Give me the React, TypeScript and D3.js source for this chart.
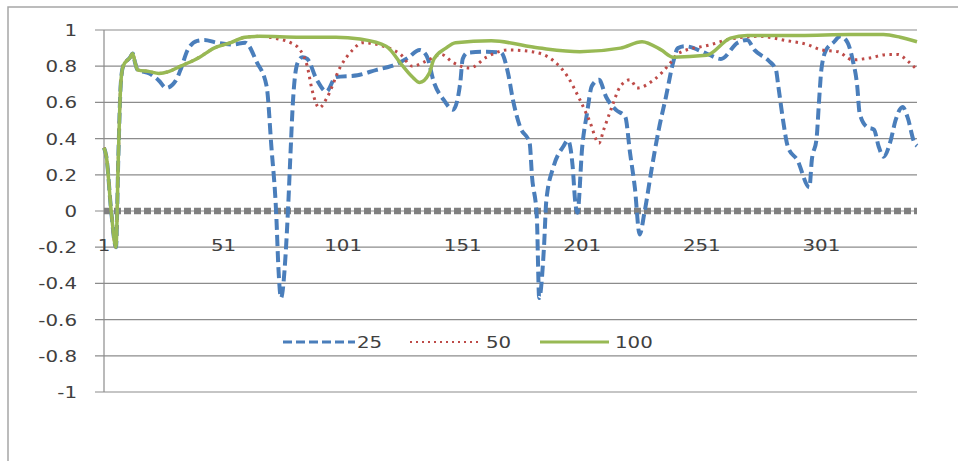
import React from 'react';
import * as d3 from 'd3';

const idx25 = [1, 2, 4, 6, 7, 8, 9, 12, 13, 14, 15, 20, 24, 27, 31, 33, 36, 40, 43, 48, 55, 60, 65, 69, 71, 73, 74, 75, 77, 78, 79, 80, 82, 84, 86, 90, 94, 98, 107, 115, 121, 128, 133, 136, 139, 143, 147, 150, 151, 153, 161, 167, 170, 172, 175, 179, 180, 182, 183, 185, 186, 189, 193, 195, 197, 198, 199, 201, 203, 205, 208, 211, 215, 219, 221, 223, 225, 227, 230, 233, 236, 239, 241, 244, 253, 259, 266, 270, 273, 279, 282, 283, 285, 287, 291, 296, 297, 299, 300, 301, 303, 306, 309, 312, 314, 316, 317, 320, 323, 325, 327, 330, 332, 335, 337, 340, 341];
const val25 = [0.35, 0.3, 0, -0.2, 0.3, 0.7, 0.8, 0.85, 0.87, 0.82, 0.78, 0.76, 0.72, 0.68, 0.72, 0.78, 0.89, 0.94, 0.945, 0.93, 0.92, 0.93, 0.82, 0.69, 0.355, -0.01, -0.33, -0.48, -0.23, 0.02, 0.32, 0.6, 0.82, 0.85, 0.84, 0.725, 0.66, 0.74, 0.75, 0.78, 0.8, 0.845, 0.89, 0.855, 0.71, 0.615, 0.56, 0.71, 0.84, 0.875, 0.88, 0.875, 0.76, 0.615, 0.465, 0.375, 0.19, -0.03, -0.48, -0.2, 0.06, 0.245, 0.355, 0.39, 0.245, 0.06, -0.01, 0.355, 0.54, 0.69, 0.725, 0.63, 0.56, 0.52, 0.32, 0.13, -0.13, -0.01, 0.23, 0.45, 0.63, 0.82, 0.9, 0.91, 0.87, 0.84, 0.93, 0.945, 0.89, 0.83, 0.78, 0.69, 0.5, 0.355, 0.28, 0.13, 0.28, 0.4, 0.6, 0.78, 0.89, 0.93, 0.965, 0.93, 0.84, 0.69, 0.54, 0.465, 0.45, 0.355, 0.3, 0.39, 0.5, 0.575, 0.52, 0.375, 0.36];

const idx50 = [1, 2, 4, 6, 7, 8, 9, 12, 13, 14, 15, 20, 24, 28, 33, 41, 47, 54, 60, 66, 74, 79, 83, 86, 88, 91, 94, 100, 105, 109, 118, 125, 130, 136, 142, 147, 154, 161, 170, 180, 189, 195, 200, 204, 208, 210, 213, 217, 221, 224, 231, 238, 241, 255, 263, 275, 287, 295, 301, 308, 314, 321, 329, 333, 337, 341];
const val50 = [0.35, 0.3, 0, -0.2, 0.3, 0.7, 0.8, 0.85, 0.87, 0.82, 0.78, 0.77, 0.76, 0.77, 0.8, 0.85, 0.9, 0.93, 0.96, 0.965, 0.95, 0.93, 0.89, 0.8, 0.67, 0.57, 0.62, 0.8, 0.89, 0.93, 0.91, 0.865, 0.8, 0.83, 0.865, 0.82, 0.79, 0.85, 0.89, 0.88, 0.83, 0.74, 0.615, 0.5, 0.375, 0.45, 0.56, 0.69, 0.725, 0.68, 0.725, 0.82, 0.87, 0.92, 0.95, 0.965, 0.94, 0.92, 0.89, 0.88, 0.835, 0.845, 0.865, 0.865, 0.83, 0.78];

const idx100 = [1, 2, 4, 6, 7, 8, 9, 12, 13, 14, 15, 20, 24, 28, 33, 41, 47, 54, 60, 66, 83, 98, 108, 119, 126, 130, 133, 137, 139, 144, 148, 163, 183, 200, 217, 226, 234, 239, 253, 263, 270, 292, 313, 327, 334, 341];
const val100 = [0.35, 0.3, 0, -0.2, 0.3, 0.7, 0.8, 0.85, 0.87, 0.82, 0.78, 0.77, 0.76, 0.77, 0.8, 0.85, 0.9, 0.93, 0.96, 0.965, 0.96, 0.96, 0.95, 0.91, 0.8, 0.74, 0.71, 0.76, 0.84, 0.9, 0.93, 0.94, 0.9, 0.88, 0.9, 0.935, 0.89, 0.85, 0.86, 0.955, 0.97, 0.97, 0.975, 0.975, 0.96, 0.935];

const idxZero = [1, 341];
const valZero = [0, 0];

const yTicks = [1, 0.8, 0.6, 0.4, 0.2, 0, -0.2, -0.4, -0.6, -0.8, -1];
const xTicks = [1, 51, 101, 151, 201, 251, 301];

const seriesNames = ['25', '50', '100'];

const width = 958;
const height = 461;

const App = () => {
  const x = d3.scaleLinear().domain([1, 341]).range([104, 917]);
  const y = d3.scaleLinear().domain([-1, 1]).range([392, 30]);

  const line = d3.line<[number, number]>()
    .x(d => x(d[0]))
    .y(d => y(d[1]))
    .curve(d3.curveMonotoneX);

  const zip = (a: number[], b: number[]) => a.map((v, i) => [v, b[i]] as [number, number]);

  const series = [
    { name: seriesNames[0], pts: zip(idx25, val25), color: '#4a7ebb', w: 4, dash: '11,5' },
    { name: seriesNames[1], pts: zip(idx50, val50), color: '#be4b48', w: 3, dash: '2.5,4.5' },
    { name: seriesNames[2], pts: zip(idx100, val100), color: '#98b954', w: 3.5, dash: null },
  ];

  const textFill = '#404040';
  const font = '"DejaVu Sans", Verdana, sans-serif';

  const legendItems = [
    { x1: 283, x2: 355, tx: 357, s: series[0], lw: 3, ld: '9,4' },
    { x1: 410, x2: 479, tx: 486, s: series[1], lw: 2, ld: '2,4' },
    { x1: 540, x2: 609, tx: 615, s: series[2], lw: 3, ld: null },
  ];

  return (
    <svg width={width} height={height} style={{ position: 'absolute', left: 0, top: 0, background: '#fff' }}>
      <rect x={8} y={7} width={1000} height={500} fill="#fff" stroke="#a6a6a6" strokeWidth={1.5} />

      {/* gridlines */}
      {yTicks.map(t => (
        <line key={t} x1={95} x2={917} y1={y(t)} y2={y(t)} stroke="#8c8c8c" strokeWidth={1.2} />
      ))}
      <line x1={104} x2={104} y1={y(1)} y2={y(-1)} stroke="#8c8c8c" strokeWidth={1.2} />

      {/* y labels */}
      {yTicks.map(t => (
        <g key={'yl' + t} transform={`translate(77,${y(t) + 6}) scale(1.2,1)`}>
          <text textAnchor="end" fontFamily={font} fontSize={16.5} fill={textFill}>{String(t)}</text>
        </g>
      ))}

      {/* x labels */}
      {xTicks.map(t => (
        <g key={'xl' + t} transform={`translate(${x(t)},251) scale(1.2,1)`}>
          <text textAnchor="middle" fontFamily={font} fontSize={16.5} fill={textFill}>{t}</text>
        </g>
      ))}

      {/* zero series */}
      <path d={line(zip(idxZero, valZero)) || ''} fill="none" stroke="#808080" strokeWidth={6.5} strokeDasharray="7,3" />

      {series.map(s => (
        <path key={s.name} d={line(s.pts) || ''} fill="none" stroke={s.color} strokeWidth={s.w}
          strokeDasharray={s.dash || undefined} strokeLinejoin="round" />
      ))}

      {/* legend */}
      {legendItems.map(l => (
        <g key={'lg' + l.s.name}>
          <line x1={l.x1} x2={l.x2} y1={342} y2={342} stroke={l.s.color} strokeWidth={l.lw}
            strokeDasharray={l.ld || undefined} />
          <g transform={`translate(${l.tx},348) scale(1.2,1)`}>
            <text fontFamily={font} fontSize={16.5} fill={textFill}>{l.s.name}</text>
          </g>
        </g>
      ))}
    </svg>
  );
};

export default App;
